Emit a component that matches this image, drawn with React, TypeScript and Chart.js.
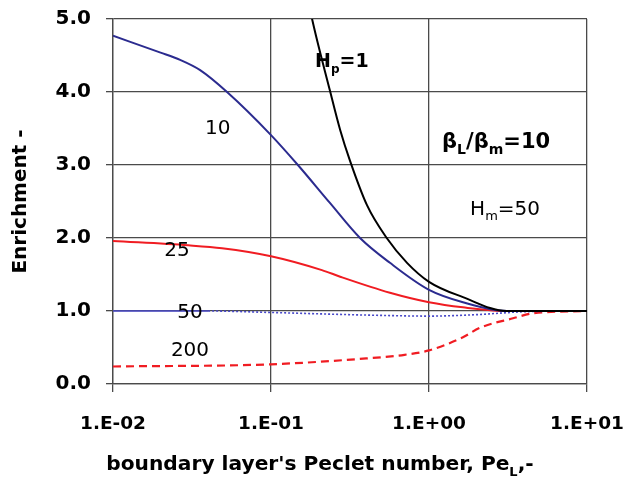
import React, { useEffect, useRef } from 'react';
import { Chart, registerables } from 'chart.js';

Chart.register(...registerables);

// ---- data ----
const xTickValues = [0.01, 0.1, 1, 10];
const xTickLabels = ['1.E-02', '1.E-01', '1.E+00', '1.E+01'];

const hp1X = [0.16, 0.182, 0.236, 0.274, 0.316, 0.405, 0.54, 0.726, 1.0, 1.64, 3.1, 10];
const hp1Y = [5.6, 5.0, 4.02, 3.48, 3.06, 2.45, 2.0, 1.66, 1.4, 1.19, 1.0, 1.0];

const hm10X = [0.01, 0.02, 0.0266, 0.0356, 0.0527, 0.1, 0.148, 0.236, 0.366, 0.566, 1.0, 1.64, 3.1, 10];
const hm10Y = [4.77, 4.54, 4.44, 4.3, 4.0, 3.41, 3.0, 2.48, 2.0, 1.66, 1.29, 1.12, 1.0, 1.0];

const hm25X = [0.01, 0.03, 0.049, 0.1, 0.21, 0.274, 0.566, 1.0, 1.64, 3.1, 10];
const hm25Y = [1.96, 1.9, 1.86, 1.75, 1.56, 1.47, 1.25, 1.12, 1.05, 1.0, 1.0];

const hm50X = [0.01, 0.04, 0.1, 0.21, 0.49, 1.0, 2.0, 4.0, 10];
const hm50Y = [1.0, 1.0, 0.98, 0.96, 0.94, 0.93, 0.95, 0.99, 1.0];

const hm200X = [0.01, 0.1, 0.4, 0.7, 1.0, 1.64, 2.1, 3.4, 4.6, 10];
const hm200Y = [0.24, 0.27, 0.35, 0.4, 0.46, 0.64, 0.77, 0.9, 0.97, 1.0];

type Part = { t: string; sub?: boolean };
type Note = { x: number; y: number; parts: Part[]; size: number; bold: boolean; align: 'left' | 'center' };

const notes: Note[] = [
  { x: 0.19, y: 4.34, parts: [{ t: 'H' }, { t: 'p', sub: true }, { t: '=1' }], size: 19, bold: true, align: 'left' },
  { x: 0.046, y: 3.42, parts: [{ t: '10' }], size: 20, bold: false, align: 'center' },
  { x: 1.21, y: 3.23, parts: [{ t: 'β' }, { t: 'L', sub: true }, { t: '/β' }, { t: 'm', sub: true }, { t: '=10' }], size: 21, bold: true, align: 'left' },
  { x: 1.82, y: 2.32, parts: [{ t: 'H' }, { t: 'm', sub: true }, { t: '=50' }], size: 20, bold: false, align: 'left' },
  { x: 0.0254, y: 1.75, parts: [{ t: '25' }], size: 20, bold: false, align: 'center' },
  { x: 0.0307, y: 0.91, parts: [{ t: '50' }], size: 20, bold: false, align: 'center' },
  { x: 0.0307, y: 0.39, parts: [{ t: '200' }], size: 20, bold: false, align: 'center' },
];

const FONT = '"DejaVu Sans", sans-serif';

function toPts(xs: number[], ys: number[]) {
  return xs.map((x, i) => ({ x, y: ys[i] }));
}

function drawRich(ctx: CanvasRenderingContext2D, parts: Part[], x: number, y: number, size: number, bold: boolean, align: string) {
  const w = bold ? 'bold ' : '';
  const subSize = Math.round(size * 0.65);
  let total = 0;
  parts.forEach((p) => {
    ctx.font = `${w}${p.sub ? subSize : size}px ${FONT}`;
    total += ctx.measureText(p.t).width;
  });
  let cx = align === 'center' ? x - total / 2 : x;
  ctx.textBaseline = 'alphabetic';
  ctx.textAlign = 'left';
  parts.forEach((p) => {
    ctx.font = `${w}${p.sub ? subSize : size}px ${FONT}`;
    ctx.fillText(p.t, cx, p.sub ? y + size * 0.28 : y);
    cx += ctx.measureText(p.t).width;
  });
}

const labelsPlugin = {
  id: 'labelsPlugin',
  afterDatasetsDraw(chart: any) {
    const ctx = chart.ctx as CanvasRenderingContext2D;
    const xs = chart.scales.x;
    const ys = chart.scales.y;
    ctx.save();
    ctx.fillStyle = '#000';
    notes.forEach((n) => {
      const px = xs.getPixelForValue(n.x);
      const py = ys.getPixelForValue(n.y);
      drawRich(ctx, n.parts, px, py, n.size, n.bold, n.align);
    });
    // x axis title with subscript
    const parts: Part[] = [{ t: "boundary layer's Peclet number, Pe" }, { t: 'L', sub: true }, { t: ',-' }];
    const area = chart.chartArea;
    const cx = (area.left + area.right) / 2 - 30;
    drawRich(ctx, parts, cx, area.bottom + 86, 20.2, true, 'center');
    ctx.restore();
  },
};

export default function App() {
  const ref = useRef<HTMLCanvasElement | null>(null);
  useEffect(() => {
    if (!ref.current) return;
    const gridColor = '#4a4a4a';
    const chart = new Chart(ref.current, {
      type: 'line',
      data: {
        datasets: [
          { label: 'Hp=1', data: toPts(hp1X, hp1Y), borderColor: '#000000', borderWidth: 2, pointRadius: 0, cubicInterpolationMode: 'monotone' },
          { label: '10', data: toPts(hm10X, hm10Y), borderColor: '#2b2b8f', borderWidth: 2, pointRadius: 0, cubicInterpolationMode: 'monotone' },
          { label: '25', data: toPts(hm25X, hm25Y), borderColor: '#f01c22', borderWidth: 2, pointRadius: 0, cubicInterpolationMode: 'monotone' },
          {
            label: '50', data: toPts(hm50X, hm50Y), borderColor: '#4848c8', borderWidth: 1.6, pointRadius: 0, cubicInterpolationMode: 'monotone',
            borderDash: [2, 2],
            segment: { borderDash: (c: any) => (c.p1.parsed.x <= 0.04 ? [] : [2, 2]) },
          },
          { label: '200', data: toPts(hm200X, hm200Y), borderColor: '#f01c22', borderWidth: 2.2, pointRadius: 0, cubicInterpolationMode: 'monotone', borderDash: [8, 5] },
        ] as any,
      },
      options: {
        responsive: false,
        animation: false,
        parsing: true,
        layout: { padding: { left: 0, top: 19, right: 40, bottom: 0 } },
        plugins: { legend: { display: false }, tooltip: { enabled: false } },
        scales: {
          x: {
            type: 'logarithmic',
            min: 0.01,
            max: 10,
            afterBuildTicks: (s: any) => { s.ticks = xTickValues.map((v) => ({ value: v })); },
            afterFit: (s: any) => { s.height = 94; s.paddingLeft = 0; s.paddingRight = 0; },
            ticks: {
              autoSkip: false,
              maxRotation: 0,
              padding: 21,
              color: '#000',
              font: { family: FONT, size: 18.5, weight: 'bold' },
              callback: (v: any) => { const i = xTickValues.findIndex((t) => Math.abs(t - v) < 1e-9); return i >= 0 ? xTickLabels[i] : ''; },
            },
            grid: { color: gridColor, lineWidth: 1.3, tickLength: 8, tickColor: gridColor },
            border: { color: gridColor, width: 1.3 },
          },
          y: {
            min: 0,
            max: 5,
            afterFit: (s: any) => { s.width = 113; s.paddingTop = 0; s.paddingBottom = 0; },
            ticks: {
              stepSize: 1,
              padding: 15,
              color: '#000',
              font: { family: FONT, size: 20, weight: 'bold' },
              callback: (v: any) => Number(v).toFixed(1),
            },
            title: { display: true, text: 'Enrichment -', color: '#000', font: { family: FONT, size: 20, weight: 'bold' }, padding: { top: 9, bottom: 0 } },
            grid: { color: gridColor, lineWidth: 1.3, tickLength: 7, tickColor: gridColor },
            border: { color: gridColor, width: 1.3 },
          },
        },
      } as any,
      plugins: [labelsPlugin],
    });
    return () => chart.destroy();
  }, []);
  return (
    <div style={{ position: 'absolute', left: 0, top: 0, width: 627, height: 478, background: '#fff' }}>
      <canvas ref={ref} width={627} height={478} />
    </div>
  );
}
